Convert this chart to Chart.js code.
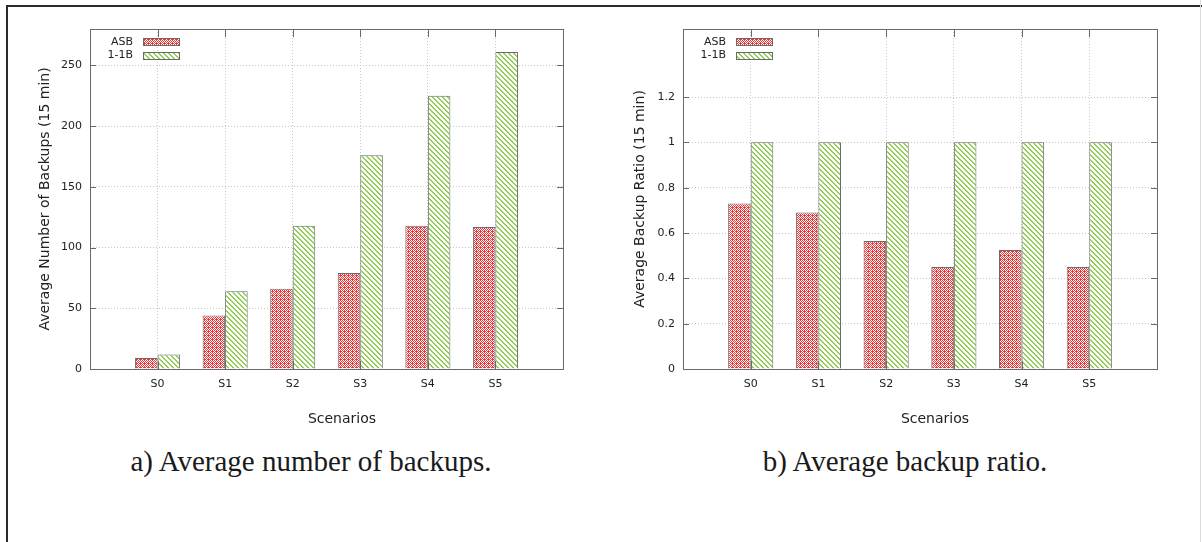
<!DOCTYPE html>
<html>
<head>
<meta charset="utf-8">
<script src="https://cdn.jsdelivr.net/npm/chart.js@4.4.0/dist/chart.umd.min.js"></script>
<style>
  html, body { margin: 0; padding: 0; background: #fff; }
  body { width: 1202px; height: 542px; position: relative; overflow: hidden; }
  #frame { position: absolute; left: 6px; top: 5px; width: 1200px; height: 540px;
           border-top: 2px solid #2a2a2a; border-left: 2px solid #2a2a2a; }
  #edge { position: absolute; left: 1200px; top: 0; width: 1px; height: 542px; background: #dcdcdc; }
  .panel { position: absolute; top: 0; width: 600px; height: 440px; }
  .xtitle { position: absolute; font-family: "DejaVu Sans"; font-size: 14px; line-height: 14px;
            color: #222; transform: translateX(-50%); white-space: nowrap; }
  .caption { position: absolute; font-family: "Liberation Serif"; font-size: 29px; line-height: 29px;
             color: #1a1a1a; transform: translateX(-50%); white-space: nowrap; }
</style>
</head>
<body>
<div id="frame"></div>
<div id="edge"></div>
<div class="panel" style="left:0"><canvas id="backups" width="600" height="440"></canvas></div>
<div class="panel" style="left:600px"><canvas id="ratio" width="600" height="440"></canvas></div>
<div class="xtitle" style="left:342px;top:411px">Scenarios</div>
<div class="xtitle" style="left:935px;top:411px">Scenarios</div>
<div class="caption" style="left:311px;top:447px">a) Average number of backups.</div>
<div class="caption" style="left:905px;top:447px">b) Average backup ratio.</div>

<script>
// Scenarios and the two compared schemes
const categories = ['S0', 'S1', 'S2', 'S3', 'S4', 'S5'];
const seriesNames = ['ASB', '1-1B'];

// Average number of backups per 15 min
const asbBackups = [9, 44, 66, 79, 118, 117];
const oneToOneBackups = [12, 64, 118, 176, 225, 261];

// Average backup ratio per 15 min
const asbRatio = [0.73, 0.69, 0.565, 0.45, 0.525, 0.45];
const oneToOneRatio = [1, 1, 1, 1, 1, 1];

// Labelled y ticks
const backupTicks = [0, 50, 100, 150, 200, 250];
const ratioTicks = [0, 0.2, 0.4, 0.6, 0.8, 1, 1.2];

// Fill patterns: red checker hatch and green diagonal hatch
function redHatch() {
  const c = document.createElement('canvas');
  c.width = 4; c.height = 4;
  const g = c.getContext('2d');
  g.fillStyle = '#ec3838'; g.fillRect(0, 0, 4, 4);
  g.fillStyle = '#ffffff';
  [[1, 0], [3, 0], [0, 1], [2, 1], [1, 2], [3, 2], [2, 3]].forEach(([px, py]) => g.fillRect(px, py, 1, 1));
  return g.createPattern(c, 'repeat');
}
function greenHatch() {
  const n = 5;
  const c = document.createElement('canvas');
  c.width = n; c.height = n;
  const g = c.getContext('2d');
  g.fillStyle = '#ffffff'; g.fillRect(0, 0, n, n);
  g.fillStyle = '#93cd55';
  for (let i = 0; i < n; i++) {
    g.fillRect(i, i, 1, 1);
    g.fillRect((i + 1) % n, i, 1, 1);
  }
  return g.createPattern(c, 'repeat');
}

const frameColor = '#6a6a6a';
const textColor = '#222';
const tickFont = { family: 'DejaVu Sans', size: 11 };

// Box frame with inward tick marks on all four sides, plus the inset key
const framePlugin = {
  id: 'boxFrame',
  afterDraw(chart) {
    const { ctx, chartArea: a, scales: { x, y } } = chart;
    ctx.save();
    ctx.strokeStyle = frameColor;
    ctx.lineWidth = 1;
    ctx.beginPath();
    x.ticks.forEach((t, i) => {
      if (!chart.data.labels[i]) return;
      const px = Math.round(x.getPixelForTick(i)) + 0.5;
      ctx.moveTo(px, a.top); ctx.lineTo(px, a.top + 8);
      ctx.moveTo(px, a.bottom); ctx.lineTo(px, a.bottom - 8);
    });
    y.ticks.forEach((t, i) => {
      const py = Math.round(y.getPixelForTick(i)) + 0.5;
      ctx.moveTo(a.left, py); ctx.lineTo(a.left + 6, py);
      ctx.moveTo(a.right, py); ctx.lineTo(a.right - 6, py);
    });
    ctx.stroke();
    ctx.strokeRect(Math.round(a.left) + 0.5, Math.round(a.top) + 0.5,
                   Math.round(a.right - a.left), Math.round(a.bottom - a.top));

    // key
    ctx.font = '11px "DejaVu Sans"';
    ctx.textAlign = 'right';
    ctx.textBaseline = 'middle';
    chart.data.datasets.forEach((ds, i) => {
      const cy = a.top + 12.8 + 13.7 * i;
      ctx.fillStyle = textColor;
      ctx.fillText(ds.label, a.left + 43, cy);
      const top = Math.round(cy - 3.5);
      ctx.fillStyle = ds.backgroundColor;
      ctx.fillRect(a.left + 53, top, 36, 7);
      ctx.strokeStyle = frameColor;
      ctx.strokeRect(Math.round(a.left + 53) + 0.5, top + 0.5, 36, 7);
    });
    ctx.restore();
  }
};

function makeChart(id, asb, oneB, ticks, yMax, yTitle, yWidth, titlePad, padRight, fmt) {
  return new Chart(document.getElementById(id), {
    type: 'bar',
    data: {
      labels: ['', ...categories, ''],
      datasets: [
        { label: seriesNames[0], data: [null, ...asb, null], backgroundColor: redHatch(),
          borderColor: frameColor, borderWidth: 1, borderSkipped: 'start' },
        { label: seriesNames[1], data: [null, ...oneB, null], backgroundColor: greenHatch(),
          borderColor: frameColor, borderWidth: 1, borderSkipped: 'start' }
      ]
    },
    options: {
      responsive: false,
      animation: false,
      layout: { padding: { top: 29, right: padRight, left: 0, bottom: 0 } },
      plugins: { legend: { display: false }, tooltip: { enabled: false } },
      datasets: { bar: { categoryPercentage: 2 / 3, barPercentage: 1 } },
      scales: {
        x: {
          offset: false,
          grid: { offset: false, color: '#c9c9c9', drawTicks: false },
          border: { display: false, dash: [1, 2] },
          ticks: { color: textColor, font: tickFont, padding: 9, maxRotation: 0, autoSkip: false },
          afterFit: s => { s.height = 440 - 369; }
        },
        y: {
          min: 0,
          max: yMax,
          grid: { color: '#c9c9c9', drawTicks: false },
          border: { display: false, dash: [1, 2] },
          ticks: { color: textColor, font: tickFont, padding: 8, callback: fmt },
          afterBuildTicks: s => { s.ticks = ticks.map(v => ({ value: v })); },
          afterFit: s => { s.width = yWidth; },
          title: { display: true, text: yTitle, color: textColor,
                   font: { family: 'DejaVu Sans', size: 14 }, padding: { top: titlePad, bottom: 0 } }
        }
      }
    },
    plugins: [framePlugin]
  });
}

makeChart('backups', asbBackups, oneToOneBackups, backupTicks, 280,
          'Average Number of Backups (15 min)', 90, 37, 37, v => String(v));
makeChart('ratio', asbRatio, oneToOneRatio, ratioTicks, 1.5,
          'Average Backup Ratio (15 min)', 83, 32, 43, v => String(+v.toFixed(1)));
</script>
</body>
</html>
